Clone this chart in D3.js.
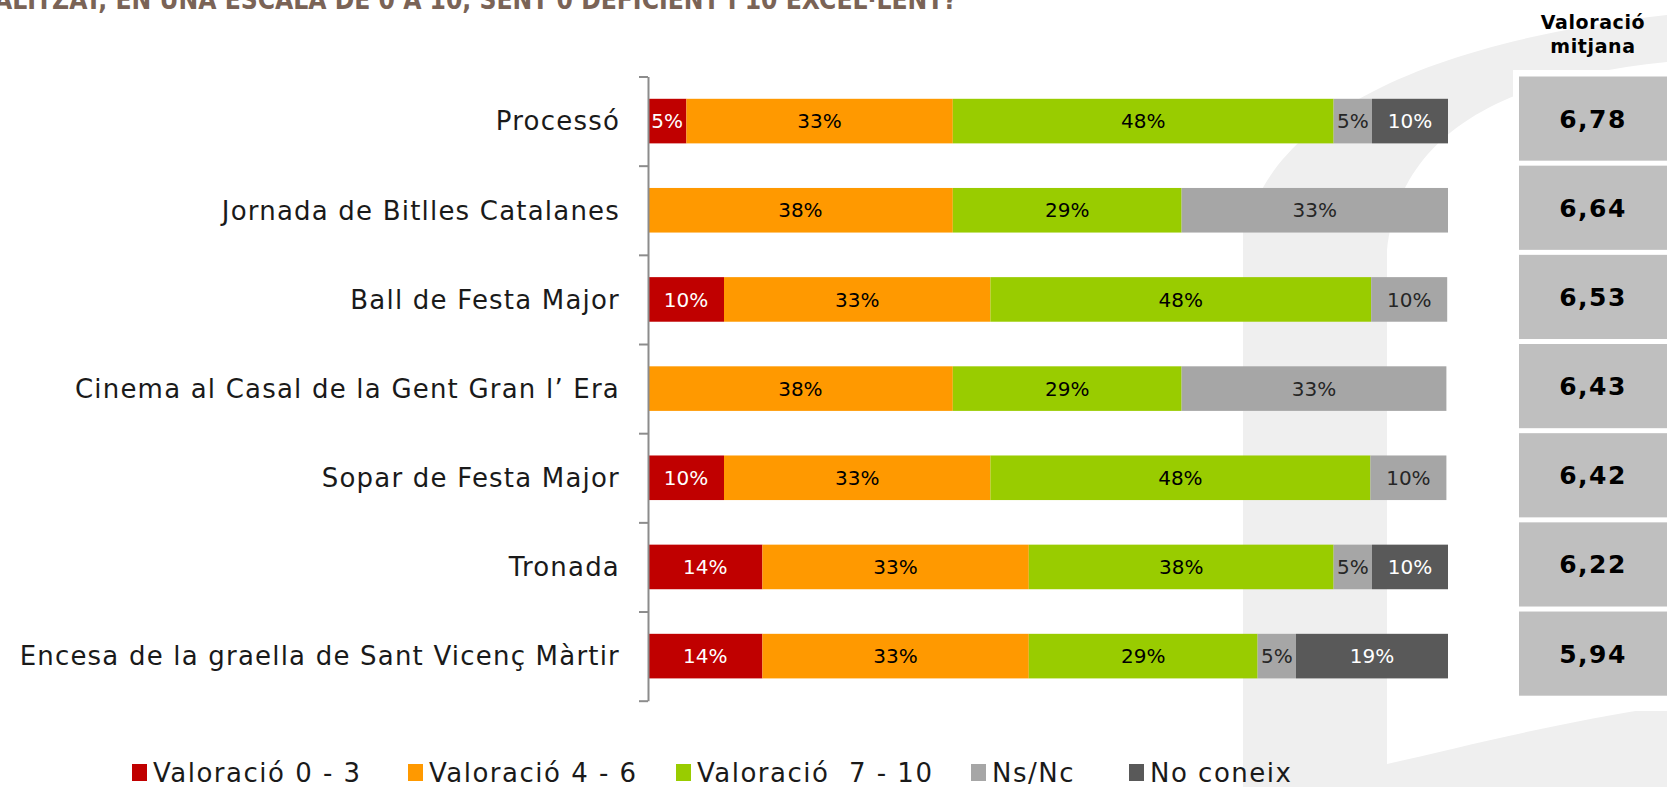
<!DOCTYPE html>
<html>
<head>
<meta charset="utf-8">
<script src="https://cdn.jsdelivr.net/npm/d3@7"></script>
<style>
  html, body { margin: 0; padding: 0; background: #fff; }
  svg text { font-family: "Century Gothic", "DejaVu Sans", sans-serif; }
</style>
</head>
<body>
<div id="chart-container"></div>
<script>
// categories (top to bottom)
var categories = ["Processó", "Jornada de Bitlles Catalanes", "Ball de Festa Major",
  "Cinema al Casal de la Gent Gran l’ Era", "Sopar de Festa Major", "Tronada",
  "Encesa de la graella de Sant Vicenç Màrtir"];

// series, % of answers
var val03 = [4.8, 0, 9.5, 0, 9.5, 14.3, 14.3];
var val46 = [33.3, 38.1, 33.3, 38.1, 33.3, 33.3, 33.3];
var val710 = [47.6, 28.6, 47.6, 28.6, 47.5, 38.1, 28.6];
var valNsNc = [4.8, 33.3, 9.5, 33.1, 9.5, 4.8, 4.8];
var valNoConeix = [9.5, 0, 0, 0, 0, 9.5, 19.0];

var seriesNames = ["Valoració 0 - 3", "Valoració 4 - 6", "Valoració  7 - 10", "Ns/Nc", "No coneix"];
var seriesKeys = ["v03", "v46", "v710", "ns", "nc"];

// mean score per category
var means = [6.78, 6.64, 6.53, 6.43, 6.42, 6.22, 5.94];

var title = "ALITZAT, EN UNA ESCALA DE 0 A 10, SENT 0 DEFICIENT I 10 EXCEL·LENT?";

var colors = ["#c00000", "#ff9900", "#99cc00", "#a6a6a6", "#595959"];
var labelColors = ["#ffffff", "#000000", "#000000", "#262626", "#ffffff"];

var width = 1667, height = 787;

var svg = d3.select("#chart-container")
  .append("svg")
    .attr("width", width)
    .attr("height", height)
    .style("background", "#fff");

// faint watermark logo in the background
var wm = svg.append("g").attr("fill", "#efefef");
wm.append("rect").attr("x", 1243).attr("y", 200).attr("width", 144).attr("height", 587);
wm.append("path").attr("d", "M1243,250 C1255,130 1400,45 1667,15 L1667,62 C1490,80 1400,140 1387,250 Z");
wm.append("path").attr("d", "M1387,787 L1387,764 C1470,745 1560,722 1667,706 L1667,787 Z");

// title, cut off at the top of the slide
svg.append("text")
  .attr("x", -6).attr("y", 9)
  .attr("textLength", 963)
  .attr("lengthAdjust", "spacingAndGlyphs")
  .style("font-size", "26px")
  .style("font-weight", "bold")
  .style("fill", "#7a6356")
  .text(title);

var rows = categories.map(function (c, i) {
  return { cat: c, v03: val03[i], v46: val46[i], v710: val710[i], ns: valNsNc[i], nc: valNoConeix[i] };
});

var stack = d3.stack().keys(seriesKeys);
var layers = stack(rows);

var xScale = d3.scaleLinear().domain([0, 100]).range([648, 1448]);
var yScale = d3.scaleBand().domain(categories).range([76.5, 700.7]).paddingInner(0.5).paddingOuter(0.25);

// bars
var layerG = svg.append("g").selectAll("g")
  .data(layers)
  .enter().append("g")
    .attr("fill", function (d, i) { return colors[i]; });

layerG.selectAll("rect")
  .data(function (d) { return d; })
  .enter().append("rect")
    .attr("x", function (d) { return xScale(d[0]); })
    .attr("y", function (d) { return yScale(d.data.cat); })
    .attr("width", function (d) { return xScale(d[1]) - xScale(d[0]); })
    .attr("height", yScale.bandwidth());

// value labels in bars
layerG.selectAll("text")
  .data(function (d, i) { return d.map(function (p) { p.li = i; return p; }); })
  .enter().filter(function (d) { return d[1] - d[0] > 0; })
  .append("text")
    .attr("x", function (d) { return (xScale(d[0]) + xScale(d[1])) / 2; })
    .attr("y", function (d) { return yScale(d.data.cat) + yScale.bandwidth() / 2; })
    .attr("dy", "0.36em")
    .attr("text-anchor", "middle")
    .style("font-size", "20px")
    .style("fill", function (d) { return labelColors[d.li]; })
    .text(function (d) { return Math.round(d[1] - d[0]) + "%"; });

// category axis with tick marks between categories
var tickScale = d3.scaleLinear().domain([0, categories.length]).range([76.5, 700.7]);
var axisG = svg.append("g")
  .attr("transform", "translate(648,0)")
  .call(d3.axisLeft(tickScale).tickValues(d3.range(categories.length + 1)).tickFormat("").tickSize(9).tickSizeOuter(0));
axisG.selectAll("path, line").attr("stroke", "#8c8c8c").attr("stroke-width", 2);

// category labels
svg.append("g").selectAll("text")
  .data(categories)
  .enter().append("text")
    .attr("x", 620)
    .attr("y", function (d) { return yScale(d) + yScale.bandwidth() / 2; })
    .attr("dy", "0.36em")
    .attr("text-anchor", "end")
    .style("font-size", "26px")
    .style("letter-spacing", "1.2px")
    .style("fill", "#1a1a1a")
    .text(function (d) { return d; });

// mean score panel on the right
svg.append("rect").attr("x", 1513).attr("y", 70).attr("width", 154).attr("height", 641).attr("fill", "#fff");

var header = svg.append("text")
  .attr("text-anchor", "middle")
  .style("font-size", "19px")
  .style("letter-spacing", "0.6px")
  .style("font-weight", "bold")
  .style("fill", "#000");
header.append("tspan").attr("x", 1593).attr("y", 29).text("Valoració");
header.append("tspan").attr("x", 1593).attr("y", 53).text("mitjana");

var meanG = svg.append("g").selectAll("g")
  .data(means)
  .enter().append("g");

meanG.append("rect")
  .attr("x", 1519)
  .attr("y", function (d, i) { return tickScale(i); })
  .attr("width", 150)
  .attr("height", function (d, i) { return tickScale(i + 1) - tickScale(i) - 5; })
  .attr("fill", "#bfbfbf");

meanG.append("text")
  .attr("x", 1593)
  .attr("y", function (d, i) { return (tickScale(i) + tickScale(i + 1) - 5) / 2; })
  .attr("dy", "0.36em")
  .attr("text-anchor", "middle")
  .style("font-size", "25px")
  .style("letter-spacing", "1.5px")
  .style("font-weight", "bold")
  .style("fill", "#000")
  .text(function (d) { return d3.format(".2f")(d).replace(".", ","); });

// legend
var legendX = [132, 408, 676, 971, 1129];
var legend = svg.append("g").selectAll("g")
  .data(seriesNames)
  .enter().append("g")
    .attr("transform", function (d, i) { return "translate(" + legendX[i] + ",773)"; });

legend.append("rect")
  .attr("x", 0).attr("y", -9)
  .attr("width", 15).attr("height", 17)
  .attr("fill", function (d, i) { return colors[i]; });

legend.append("text")
  .attr("x", 21)
  .attr("dy", "0.36em")
  .style("font-size", "26px")
  .style("letter-spacing", "1.5px")
  .style("white-space", "pre")
  .style("fill", "#1a1a1a")
  .text(function (d) { return d; });
</script>
</body>
</html>
